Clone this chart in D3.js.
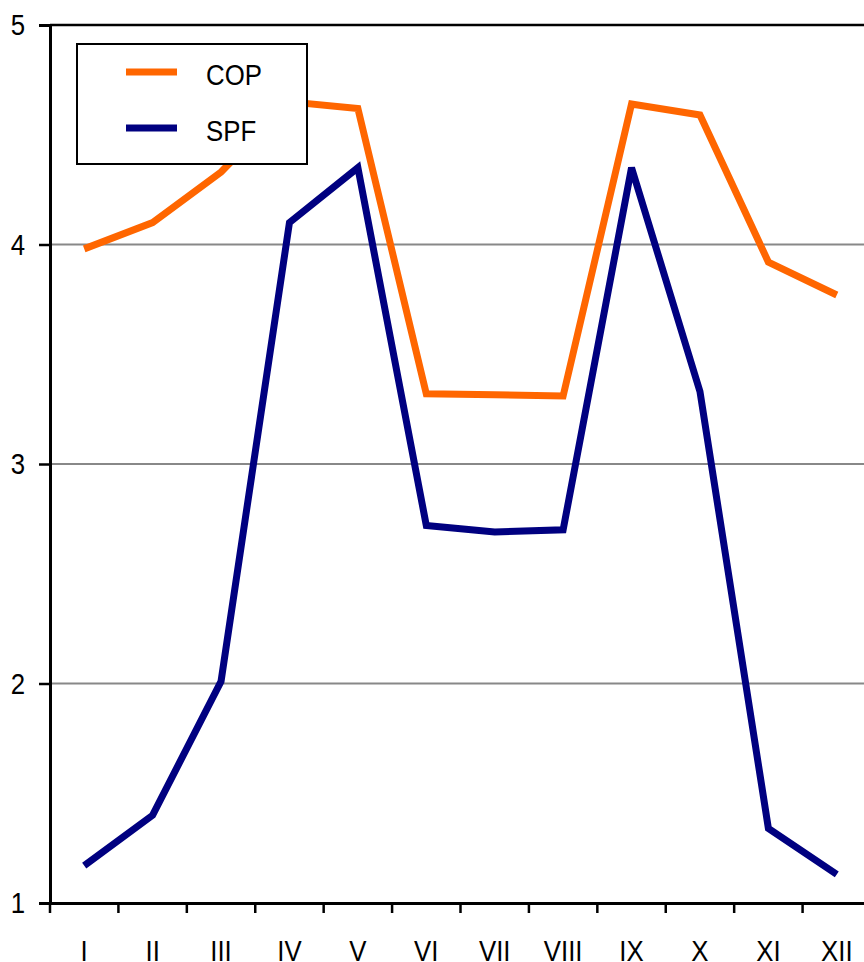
<!DOCTYPE html>
<html><head><meta charset="utf-8">
<script src="https://cdn.jsdelivr.net/npm/d3@7"></script>
<style>html,body{margin:0;padding:0;background:#fff;overflow:hidden}</style>
</head><body>
<svg id="chart" width="864" height="962"></svg>
<script>
const months = ["I","II","III","IV","V","VI","VII","VIII","IX","X","XI","XII"];
const cop = [3.98,4.10,4.33,4.65,4.62,3.32,3.315,3.31,4.64,4.59,3.92,3.77];
const spf = [1.17,1.40,2.01,4.10,4.35,2.72,2.69,2.70,4.35,3.33,1.34,1.13];
const yTicks = [1,2,3,4,5];
const seriesNames = ["COP","SPF"];
const seriesColors = ["#FF6600","#000080"];

(function(){
const svg = d3.select("#chart");
const pL = 50, pR = 871, pT = 25, pB = 903;
const font = "'Liberation Sans', Arial, sans-serif";
const fs = 30, sx = 0.86;

const x = d3.scaleBand().domain(months).range([pL, pR]).padding(0);
const y = d3.scaleLinear().domain([1,5]).range([pB, pT]);

// gridlines
svg.append("g").selectAll("line").data([2,3,4]).join("line")
  .attr("x1", pL).attr("x2", pR)
  .attr("y1", d => y(d)).attr("y2", d => y(d))
  .attr("stroke", "#888").attr("stroke-width", 2);

// top border
svg.append("line").attr("x1", pL).attr("x2", pR).attr("y1", pT).attr("y2", pT)
  .attr("stroke", "#000").attr("stroke-width", 2.5);

// y axis
const yAxis = d3.axisLeft(y).tickValues(yTicks).tickSize(11).tickPadding(14).tickFormat(d3.format("d"));
const gy = svg.append("g").attr("transform", `translate(${pL},0)`).call(yAxis);
gy.select(".domain").attr("stroke", "#000").attr("stroke-width", 3);
gy.selectAll(".tick line").attr("stroke", "#000").attr("stroke-width", 2.5);
gy.selectAll(".tick text").attr("font-family", font).attr("font-size", fs).attr("fill", "#000")
  .attr("x", -25 / sx).attr("transform", `scale(${sx},1)`);

// x axis
const xAxis = d3.axisBottom(x).tickSize(0).tickPadding(0);
const gx = svg.append("g").attr("transform", `translate(0,${pB})`).call(xAxis);
gx.select(".domain").attr("stroke", "#000").attr("stroke-width", 3);
gx.selectAll(".tick text").attr("font-family", font).attr("font-size", fs).attr("fill", "#000")
  .attr("dy", null).attr("y", 58).attr("transform", `scale(${sx},1)`);
// band boundary ticks
const bounds = months.map(m => x(m)).concat([pR]);
svg.append("g").selectAll("line").data(bounds).join("line")
  .attr("x1", d => d).attr("x2", d => d).attr("y1", pB).attr("y2", pB + 10)
  .attr("stroke", "#000").attr("stroke-width", 2.5);

// lines
const line = d3.line().x((d,i) => x(months[i]) + x.bandwidth()/2).y(d => y(d));
[cop, spf].forEach((s, k) => {
  svg.append("path").datum(s).attr("d", line)
    .attr("fill", "none").attr("stroke", seriesColors[k]).attr("stroke-width", 7)
    .attr("stroke-linejoin", "miter").attr("stroke-linecap", "butt");
});

// legend
const lg = svg.append("g");
lg.append("rect").attr("x", 77).attr("y", 44).attr("width", 230).attr("height", 120)
  .attr("fill", "#fff").attr("stroke", "#000").attr("stroke-width", 2);
seriesNames.forEach((n, k) => {
  const yy = 72 + k * 56;
  lg.append("line").attr("x1", 126).attr("x2", 177).attr("y1", yy).attr("y2", yy)
    .attr("stroke", seriesColors[k]).attr("stroke-width", 7);
  lg.append("text").attr("transform", `translate(206,${yy + 13}) scale(${sx},1)`).text(n)
    .attr("font-family", font).attr("font-size", fs).attr("fill", "#000");
});
})();
</script>
</body></html>
